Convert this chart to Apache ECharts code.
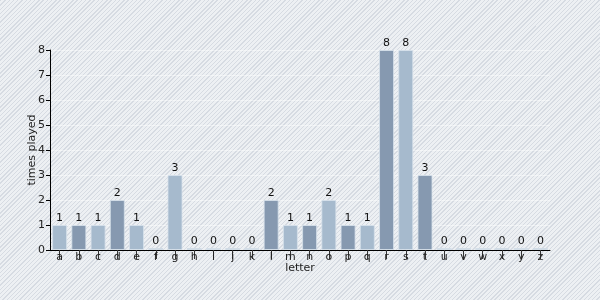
<!DOCTYPE html>
<html><head><meta charset="utf-8">
<script src="https://cdn.jsdelivr.net/npm/echarts@6/dist/echarts.min.js"></script>
<style>
html,body{margin:0;padding:0;}
#c{width:600px;height:300px;background-color:#eceff3;
background-image:repeating-linear-gradient(-45deg,#edf0f3 0px,#edf0f3 2px,#d6dbe2 2px,#d6dbe2 3px);}
</style></head>
<body><div id="c"></div>
<script>
const letters = ['a','b','c','d','e','f','g','h','i','j','k','l','m','n','o','p','q','r','s','t','u','v','w','x','y','z'];
const timesPlayed = [1,1,1,2,1,0,3,0,0,0,0,2,1,1,2,1,1,8,8,3,0,0,0,0,0,0];
const yTicks = [0,1,2,3,4,5,6,7,8];
const lightColor = '#a6bacd';
const darkColor = '#8699b0';

const chart = echarts.init(document.getElementById('c'), null, {renderer:'canvas'});
const font = 'DejaVu Sans';
chart.setOption({
  backgroundColor: 'transparent',
  animation: false,
  grid: {left: 50, right: 50, top: 50, bottom: 50},
  xAxis: {
    type: 'category', data: letters,
    name: 'letter', nameLocation: 'middle', nameGap: 13, nameMoveOverlap: false,
    nameTextStyle: {color: '#222', fontFamily: font, fontSize: 11},
    axisLine: {lineStyle: {color: '#000', width: 1}},
    axisTick: {show: true, alignWithLabel: true, length: 9, lineStyle: {color: '#333'}},
    axisLabel: {color: '#222', fontFamily: font, fontSize: 11, margin: 2},
    splitLine: {show: false}
  },
  yAxis: {
    type: 'value', min: yTicks[0], max: yTicks[yTicks.length-1], interval: 1,
    name: 'times played', nameLocation: 'middle', nameGap: 12, nameRotate: 90, nameMoveOverlap: false,
    nameTextStyle: {color: '#222', fontFamily: font, fontSize: 11},
    axisLine: {show: true, lineStyle: {color: '#000', width: 1}},
    axisTick: {show: true, length: 4, lineStyle: {color: '#000'}},
    axisLabel: {color: '#222', fontFamily: font, fontSize: 11, margin: 5},
    splitLine: {show: true, lineStyle: {color: 'rgba(255,255,255,0.45)', width: 1}}
  },
  series: [{
    type: 'bar',
    data: timesPlayed.map((v,i)=>({value:v, itemStyle:{color: i%2===0 ? lightColor : darkColor}})),
    barWidth: 15,
    barMinHeight: 2,
    itemStyle: {borderColor: 'rgba(215,225,235,0.8)', borderWidth: 1},
    label: {show: true, position: 'top', distance: 1, color: '#111', fontFamily: font, fontSize: 11}
  }]
});
</script></body></html>
